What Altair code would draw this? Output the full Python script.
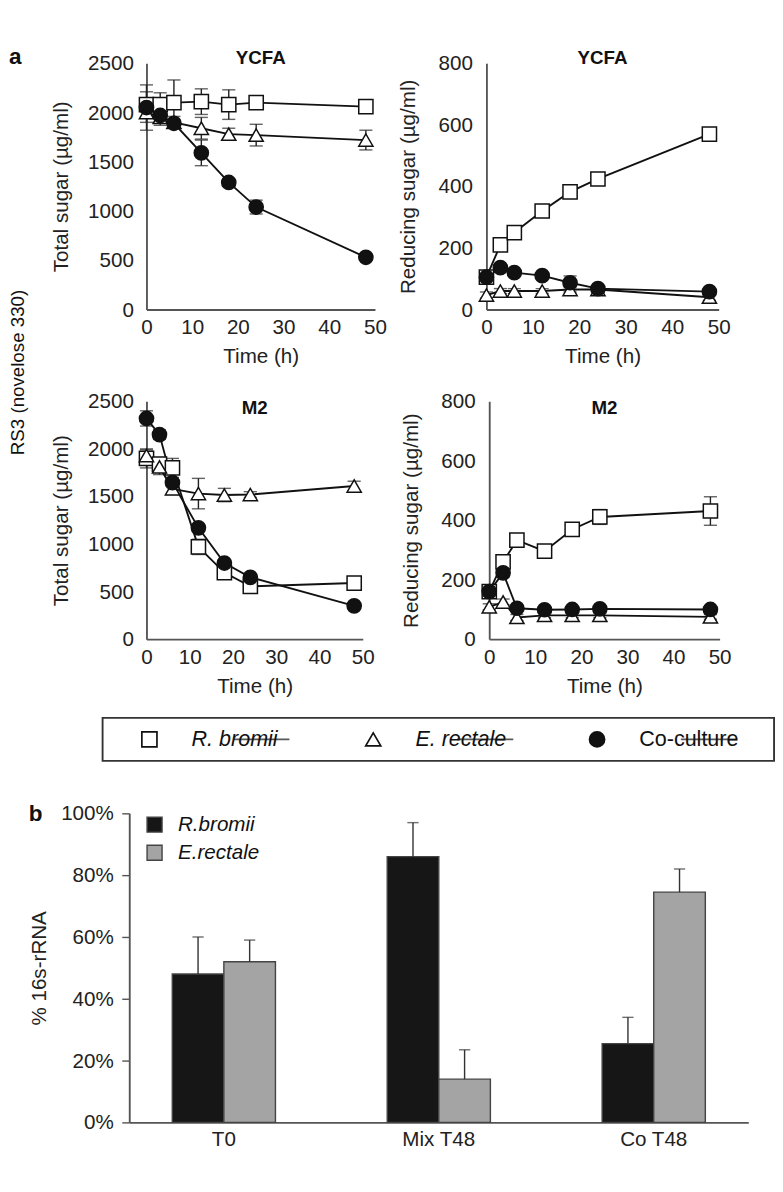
import altair as alt
import pandas as pd

FONT = "Liberation Sans"

# ---------------- data ----------------
time_h = [0, 3, 6, 12, 18, 24, 48]
series = ["R. bromii", "E. rectale", "Co-culture"]

# YCFA - total sugar (ug/ml)
ycfa_total = [
    [2080, 2080, 2100, 2110, 2080, 2100, 2060],   # R. bromii
    [2000, 1950, 1900, 1840, 1780, 1770, 1720],   # E. rectale
    [2050, 1970, 1890, 1590, 1290, 1040, 530],    # Co-culture
]
ycfa_total_err = [
    [130, 120, 230, 130, 150, 30, 30],
    [100, 80, 60, 110, 60, 110, 100],
    [230, 60, 40, 130, 40, 70, 30],
]
# YCFA - reducing sugar (ug/ml)
ycfa_red = [
    [105, 210, 250, 320, 382, 424, 570],
    [47, 60, 60, 60, 65, 65, 40],
    [105, 136, 120, 110, 87, 68, 58],
]
ycfa_red_err = [
    [10, 10, 10, 10, 10, 10, 10],
    [10, 8, 8, 8, 8, 8, 10],
    [10, 8, 8, 8, 22, 10, 8],
]
# M2 - total sugar
m2_total = [
    [1900, 1840, 1800, 970, 700, 555, 590],
    [1930, 1810, 1580, 1530, 1515, 1520, 1610],
    [2320, 2150, 1645, 1170, 800, 650, 350],
]
m2_total_err = [
    [100, 60, 100, 80, 40, 70, 30],
    [60, 80, 60, 160, 70, 30, 50],
    [80, 50, 30, 40, 30, 30, 20],
]
# M2 - reducing sugar
m2_red = [
    [160, 260, 333, 296, 369, 411, 431],
    [109, 125, 73, 80, 80, 80, 75],
    [160, 223, 104, 99, 100, 102, 100],
]
m2_red_err = [
    [15, 15, 10, 10, 10, 25, 48],
    [10, 10, 10, 8, 8, 8, 8],
    [15, 15, 8, 8, 8, 8, 8],
]

# Panel b
bar_categories = ["T0", "Mix T48", "Co T48"]
bar_species = ["R.bromii", "E.rectale"]
rb_pct = [48, 86, 25.5]
rb_sd = [12, 11, 8.5]
er_pct = [52, 14, 74.5]
er_sd = [7, 9.5, 7.5]


def make_df(vals, errs):
    rows = []
    for s, v, e in zip(series, vals, errs):
        for t, vi, ei in zip(time_h, v, e):
            rows.append({"time": t, "series": s, "value": vi,
                         "lo": vi - ei, "hi": vi + ei})
    return pd.DataFrame(rows)


AX_FS = 22
SHAPES = ["square", "triangle-up", "circle"]
FILLS = ["white", "white", "#111"]


def panel(df, title, ytitle, ymax, ystep, w, h, toff, ylp, ytp):
    x = alt.X("time:Q", scale=alt.Scale(domain=[0, 50], nice=False, zero=False),
              axis=alt.Axis(values=[0, 10, 20, 30, 40, 50], title="Time (h)",
                            ticks=False, labelFlush=False, grid=False,
                            labelPadding=9, titlePadding=10))
    ys = alt.Scale(domain=[0, ymax], nice=False)
    ya = alt.Axis(values=list(range(0, ymax + 1, ystep)), title=ytitle, format="d",
                  ticks=False, grid=False, labelPadding=ylp, titlePadding=ytp)
    base = alt.Chart(df).encode(x=x)
    err = base.mark_rule(color="#222", strokeWidth=1.5).encode(
        y=alt.Y("lo:Q", scale=ys, axis=ya), y2="hi:Q")
    cap_lo = base.mark_tick(orient="horizontal", size=14, thickness=1.5,
                            color="#222").encode(y=alt.Y("lo:Q", scale=ys, axis=ya))
    cap_hi = base.mark_tick(orient="horizontal", size=14, thickness=1.5,
                            color="#222").encode(y=alt.Y("hi:Q", scale=ys, axis=ya))
    line = base.mark_line(color="#111", strokeWidth=2).encode(
        y=alt.Y("value:Q", scale=ys, axis=ya), detail="series:N")
    pts = base.mark_point(filled=True, size=230, stroke="#111", strokeWidth=1.6,
                          opacity=1).encode(
        y=alt.Y("value:Q", scale=ys, axis=ya),
        shape=alt.Shape("series:N", scale=alt.Scale(domain=series, range=SHAPES), legend=None),
        fill=alt.Fill("series:N", scale=alt.Scale(domain=series, range=FILLS), legend=None),
    )
    return alt.layer(err, cap_lo, cap_hi, line, pts).properties(
        width=w, height=h,
        title=alt.Title(title, fontSize=20, fontWeight="bold", anchor="middle",
                        frame="group", offset=toff))


tl = panel(make_df(ycfa_total, ycfa_total_err), "YCFA", "Total sugar (µg/ml)",
           2500, 500, 244, 263, -15.5, 14, 16)
tr = panel(make_df(ycfa_red, ycfa_red_err), "YCFA", "Reducing sugar (µg/ml)",
           800, 200, 248, 263, -15.5, 15, 20)
bl = panel(make_df(m2_total, m2_total_err), "M2", "Total sugar (µg/ml)",
           2500, 500, 231, 254, -28.5, 14, 16)
br = panel(make_df(m2_red, m2_red_err), "M2", "Reducing sugar (µg/ml)",
           800, 200, 246, 254, -28.5, 15, 20)

IND = dict(x="independent", y="independent", shape="independent", fill="independent")
row1 = alt.hconcat(tl, tr, spacing=11).resolve_scale(**IND)
row2 = alt.hconcat(bl, br, spacing=27).resolve_scale(**IND)
rows = alt.vconcat(
    row1, row2, spacing=26,
    title=alt.Title("RS3 (novelose 330)", orient="left", anchor="middle",
                    frame="bounds", offset=25, fontSize=20, fontWeight="normal"),
).resolve_scale(**IND)

# ---------------- boxed key for panel a ----------------
key_df = pd.DataFrame({"series": series})
kx = alt.X("series:N", sort=series, bandPosition=0,
           scale=alt.Scale(domain=series, paddingInner=0, paddingOuter=0), axis=None)
kbase = alt.Chart(key_df).encode(x=kx)
k_seg = kbase.mark_tick(orient="horizontal", size=60, thickness=2, color="#111", xOffset=50)
k_sym = kbase.mark_point(filled=True, size=260, stroke="#111", strokeWidth=1.8,
                         opacity=1, xOffset=50).encode(
    shape=alt.Shape("series:N", scale=alt.Scale(domain=series, range=SHAPES), legend=None),
    fill=alt.Fill("series:N", scale=alt.Scale(domain=series, range=FILLS), legend=None),
)
k_txt_it = kbase.transform_filter(alt.datum.series != series[2]).mark_text(
    align="left", baseline="middle", dx=95, fontSize=23, fontStyle="italic",
    color="#111").encode(text="series:N")
k_txt = kbase.transform_filter(alt.datum.series == series[2]).mark_text(
    align="left", baseline="middle", dx=95, fontSize=23, color="#111").encode(text="series:N")
key = alt.layer(k_seg, k_sym, k_txt_it, k_txt).properties(
    width=717, height=46, view=alt.ViewBackground(stroke="#333", strokeWidth=2))

upper = alt.vconcat(rows, key, spacing=22, center=True).resolve_scale(**IND)

# ---------------- panel b ----------------
brows = []
for c, v, s in zip(bar_categories, rb_pct, rb_sd):
    brows.append({"category": c, "species": bar_species[0], "value": v, "upper": v + s})
for c, v, s in zip(bar_categories, er_pct, er_sd):
    brows.append({"category": c, "species": bar_species[1], "value": v, "upper": v + s})
bar_df = pd.DataFrame(brows)

xb = alt.X("category:N", sort=bar_categories,
           scale=alt.Scale(paddingInner=0.52),
           axis=alt.Axis(title=None, labelAngle=0, ticks=False, labelPadding=8))
xo = alt.XOffset("species:N", sort=bar_species)
yb_axis = alt.Axis(values=[0, 20, 40, 60, 80, 100], labelExpr="datum.value + '%'",
                   tickSize=8, labelPadding=9, title="% 16s-rRNA",
                   titlePadding=11, grid=False)
yb_scale = alt.Scale(domain=[0, 100], nice=False)

bbase = alt.Chart(bar_df).encode(x=xb, xOffset=xo)
bars = bbase.mark_bar(stroke="#444", strokeWidth=1.5).encode(
    y=alt.Y("value:Q", scale=yb_scale, axis=yb_axis),
    fill=alt.Fill("species:N", sort=bar_species,
                  scale=alt.Scale(domain=bar_species, range=["#161616", "#a4a4a4"]),
                  legend=alt.Legend(title=None, orient="none", legendX=16, legendY=1,
                                    padding=0, symbolType="square", symbolSize=256,
                                    symbolStrokeColor="#444", symbolStrokeWidth=1.5,
                                    labelFontSize=22, labelFontStyle="italic",
                                    labelColor="#111", labelOffset=14, rowPadding=8)),
)
berr = bbase.mark_rule(color="#333", strokeWidth=1.5).encode(
    y=alt.Y("value:Q", scale=yb_scale, axis=yb_axis), y2="upper:Q")
bcap = bbase.mark_tick(orient="horizontal", size=12, thickness=1.5, color="#333").encode(
    y=alt.Y("upper:Q", scale=yb_scale, axis=yb_axis))

bar = alt.layer(bars, berr, bcap).properties(
    width=661, height=330,
    title=alt.Title("b", anchor="start", frame="bounds", offset=-24,
                    fontSize=24, fontWeight="bold"))

chart = alt.vconcat(
    upper, bar, spacing=44, center=True,
    title=alt.Title("a", anchor="start", frame="bounds", offset=-21,
                    fontSize=24, fontWeight="bold"),
).resolve_scale(**IND).properties(
    padding={"left": 0, "top": 0, "right": 0, "bottom": 0}
).configure(font=FONT).configure_view(stroke=None).configure_axis(
    labelFontSize=AX_FS, titleFontSize=AX_FS, labelColor="#222", titleColor="#222",
    titleFontWeight="normal", domainColor="#555", domainWidth=2,
    tickColor="#555", tickWidth=1.5, labelFont=FONT, titleFont=FONT,
).configure_title(font=FONT, color="#111")

chart.save("out.html", embed_options={"renderer": "svg", "actions": False})
